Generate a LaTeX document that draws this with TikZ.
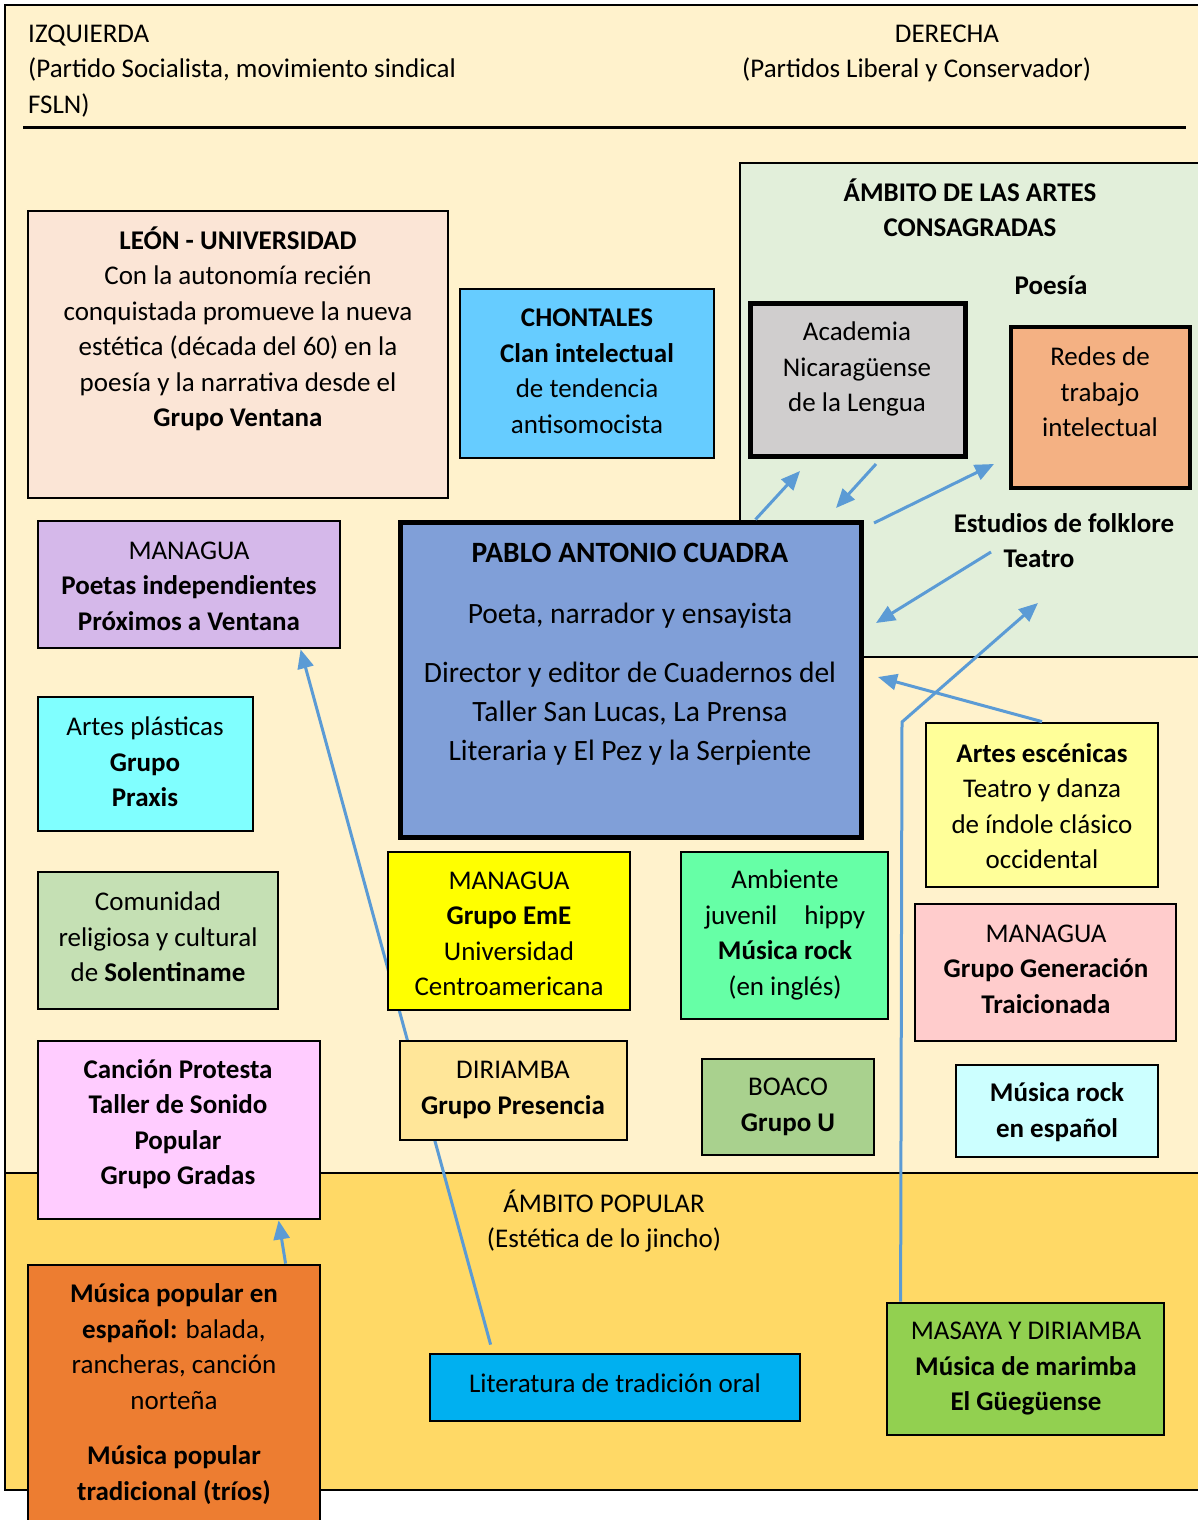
\documentclass[tikz,border=0pt]{standalone}
\usepackage{fontspec}
\setmainfont{Carlito}
\usepackage{tikz}
\usetikzlibrary{positioning, fit, arrows.meta, calc}
\definecolor{bgcream}{HTML}{FFF2CC}
\definecolor{artesgreen}{HTML}{E2EFDA}
\definecolor{popgold}{HTML}{FFD966}
\definecolor{leonpink}{HTML}{FBE5D6}
\definecolor{chontblue}{HTML}{66CCFF}
\definecolor{poetlav}{HTML}{D5B8EA}
\definecolor{pacblue}{HTML}{809FD8}
\definecolor{acadgray}{HTML}{D0CECE}
\definecolor{redesorange}{HTML}{F4B183}
\definecolor{plastcyan}{HTML}{80FFFF}
\definecolor{comgreen}{HTML}{C5E0B4}
\definecolor{cancpink}{HTML}{FFCCFF}
\definecolor{emeyellow}{HTML}{FFFF00}
\definecolor{hippygreen}{HTML}{66FFA6}
\definecolor{escyellow}{HTML}{FFFF99}
\definecolor{genpink}{HTML}{FFCCCC}
\definecolor{diriyellow}{HTML}{FFE699}
\definecolor{boacogreen}{HTML}{A9D18E}
\definecolor{rockcyan}{HTML}{CCFFFF}
\definecolor{mpoporange}{HTML}{ED7D31}
\definecolor{litblue}{HTML}{00B0F0}
\definecolor{masayagreen}{HTML}{92D050}
\definecolor{arrowblue}{HTML}{5B9BD5}

\begin{document}
\begin{tikzpicture}[x=1pt, y=-1pt,
			box/.style={draw, line width=2.8pt, inner sep=0pt},
			heavybox/.style={box, line width=5pt},
			txt/.style={inner sep=0pt, align=center, font=\fontsize{27}{35.5}\selectfont},
			bigtxt/.style={txt, font=\fontsize{29.5}{39}\selectfont},
			arr/.style={draw=arrowblue, line width=3pt, -{Triangle[length=19pt,width=16pt]}},
			>=Triangle
			]
			\useasboundingbox (0,0) rectangle (1198,1520);
			\clip (0,0) rectangle (1198,1520);
			% fondo y franjas
			\node[box, fill=bgcream, fit={(5,5) (1210,1490)}] (frame) {};
			\node[box, fill=popgold, fit={(5,1173) (1210,1490)}] (popular) {};
			\node[box, fill=artesgreen, fit={(740,163) (1210,657)}] (artes) {};
			\draw[line width=3pt] (23,127) coordinate (hl) -- (1186,127) coordinate (hr);
			
			\node[txt, anchor=west, align=left] (izq) at (28,71) {IZQUIERDA\\(Partido Socialista, movimiento sindical\\FSLN)};
			\node[txt] (der) at (947,34) {DERECHA};
			\node[txt, anchor=west] (der2) at (742,70) {(Partidos Liberal y Conservador)};
			\node[txt] (artest) at (970,208) {\textbf{ÁMBITO DE LAS ARTES}\\\textbf{CONSAGRADAS}};
			\node[txt] (poesia) at (1051,285) {\textbf{Poesía}};
			\node[txt] (folk) at (1064,523) {\textbf{Estudios de folklore}};
			\node[txt] (teatro) at (1039,559) {\textbf{Teatro}};
			\node[txt] (popt) at (604,1221) {ÁMBITO POPULAR\\(Estética de lo jincho)};
			
			% flecha larga por detras de las cajas
			\node[box, fill=litblue, fit={(430,1354) (800,1421)}] (lit) {};
			\node[box, fill=poetlav, fit={(38,521) (340,648)}] (poet) {};
			\draw[arr] ($(lit.north west)+(62,-8)$) -- ($(poet.south west)+(264,0)$);
			
			% cajas
			\node[heavybox, fill=acadgray, fit={(750,303) (965,456)}] (acad) {};
			\node[box, line width=3.5pt, fill=redesorange, fit={(1011,327) (1190,488)}] (redes) {};
			\node[box, fill=leonpink, fit={(28,211) (448,498)}] (leon) {};
			\node[box, fill=chontblue, fit={(460,289) (714,458)}] (chont) {};
			\node[heavybox, fill=pacblue, fit={(400,522) (861,837)}] (pac) {};
			\node[box, fill=plastcyan, fit={(38,697) (253,831)}] (plast) {};
			\node[box, fill=comgreen, fit={(38,872) (278,1009)}] (com) {};
			\node[box, fill=cancpink, fit={(38,1041) (320,1219)}] (canc) {};
			\node[box, fill=emeyellow, fit={(388,852) (630,1010)}] (eme) {};
			\node[box, fill=hippygreen, fit={(681,852) (888,1019)}] (hippy) {};
			\node[box, fill=escyellow, fit={(926,723) (1158,887)}] (esc) {};
			\node[box, fill=genpink, fit={(915,904) (1176,1041)}] (gen) {};
			\node[box, fill=diriyellow, fit={(400,1041) (627,1140)}] (diri) {};
			\node[box, fill=boacogreen, fit={(702,1059) (874,1155)}] (boaco) {};
			\node[box, fill=rockcyan, fit={(956,1065) (1158,1157)}] (rock) {};
			\node[box, fill=mpoporange, fit={(28,1265) (320,1540)}] (mpop) {};
			\node[box, fill=masayagreen, fit={(887,1303) (1164,1435)}] (masaya) {};
			
			% textos
			\node[txt] (acadt) at (857,369) {Academia\\Nicaragüense\\de la Lengua};
			\node[txt] (redest) at (1100,392) {Redes de\\trabajo\\intelectual};
			\node[txt] (leont) at (238,329) {\textbf{LEÓN - UNIVERSIDAD}\\Con la autonomía recién\\conquistada promueve la nueva\\estética (década del 60) en la\\poesía y la narrativa desde el\\\textbf{Grupo Ventana}};
			\node[txt] (chontt) at (587,371) {\textbf{CHONTALES}\\\textbf{Clan intelectual}\\de tendencia\\antisomocista};
			\node[txt] (poett) at (189,586) {MANAGUA\\\textbf{Poetas independientes}\\\textbf{Próximos a Ventana}};
			\node[bigtxt] (pact) at (630,654) {\textbf{PABLO ANTONIO CUADRA}\\[22pt]Poeta, narrador y ensayista\\[20pt]Director y editor de Cuadernos del\\Taller San Lucas, La Prensa\\Literaria y El Pez y la Serpiente};
			\node[txt] (plastt) at (145,762) {Artes plásticas\\\textbf{Grupo}\\\textbf{Praxis}};
			\node[txt] (comt) at (158,937) {Comunidad\\religiosa y cultural\\de \textbf{Solentiname}};
			\node[txt] (canct) at (178,1124) {\textbf{Canción Protesta}\\\textbf{Taller de Sonido}\\\textbf{Popular}\\\textbf{Grupo Gradas}};
			\node[txt] (emet) at (509,934) {MANAGUA\\\textbf{Grupo EmE}\\Universidad\\Centroamericana};
			\node[txt] (hippyt) at (785,935) {Ambiente\\juvenil\quad hippy\\\textbf{Música rock}\\(en inglés)};
			\node[txt] (esct) at (1042,806) {\textbf{Artes escénicas}\\Teatro y danza\\de índole clásico\\occidental};
			\node[txt] (gent) at (1046,969) {MANAGUA\\\textbf{Grupo Generación}\\\textbf{Traicionada}};
			\node[txt] (dirit) at (513,1090) {DIRIAMBA\\\textbf{Grupo Presencia}};
			\node[txt] (boacot) at (788,1107) {BOACO\\\textbf{Grupo U}};
			\node[txt] (rockt) at (1057,1112) {\textbf{Música rock}\\\textbf{en español}};
			\node[txt] (mpopt) at (174,1394) {\textbf{Música popular en}\\\textbf{español:} balada,\\rancheras, canción\\norteña\\[20pt]\textbf{Música popular}\\\textbf{tradicional (tríos)}};
			\node[txt] (litt) at (615,1383) {Literatura de tradición oral};
			\node[txt] (masayat) at (1026,1369) {MASAYA Y DIRIAMBA\\\textbf{Música de marimba}\\\textbf{El Güegüense}};
			
			% extremos libres de las flechas
			\coordinate (ca) at (800,471);
			\coordinate (cb1) at (876,464);
			\coordinate (cb2) at (836,508);
			\coordinate (cc1) at (874,523);
			\coordinate (cc2) at (994,464);
			\coordinate (cd1) at (991,552);
			\coordinate (cd2) at (876,623);
			\coordinate (ce1) at (902,722);
			\coordinate (ce2) at (1038,603);
			\coordinate (cf) at (878,677);
			
			\draw[arr] ($(pac.north west)+(358,0)$) -- (ca);
			\draw[arr] (cb1) -- (cb2);
			\draw[arr] (cc1) -- (cc2);
			\draw[arr] (cd1) -- (cd2);
			\draw[arr] ($(masaya.north west)+(15,0)$) -- (ce1) -- (ce2);
			\draw[arr] (esc.north) -- (cf);
			\draw[arr] ($(mpop.north west)+(259,0)$) -- ($(canc.south west)+(242,0)$);
			\end{tikzpicture}
\end{document}
